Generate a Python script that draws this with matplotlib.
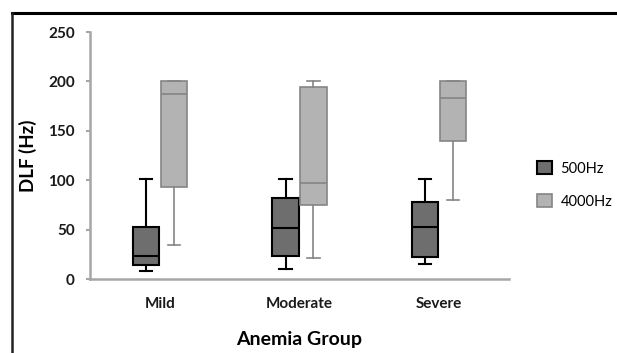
import matplotlib
matplotlib.use("Agg")
import matplotlib.pyplot as plt
from matplotlib.lines import Line2D
from matplotlib.patches import Patch

plt.rcParams["font.family"] = ["Lato", "DejaVu Sans"]

# data
groups      = ["Mild", "Moderate", "Severe"]
series      = ["500Hz", "4000Hz"]
lo_500      = [8, 10, 15]
q1_500      = [14, 24, 23]
med_500     = [24, 52, 53]
q3_500      = [53, 82, 78]
hi_500      = [101, 101, 101]
lo_4000     = [35, 22, 80]
q1_4000     = [93, 75, 140]
med_4000    = [187, 97, 183]
q3_4000     = [200, 194, 200]
hi_4000     = [200, 200, 200]
yticks      = [0, 50, 100, 150, 200, 250]

DARK = "#6e6e6e"; LIGHT = "#b3b3b3"; AXIS = "#a6a6a6"; LEDGE = "#858585"

fig = plt.figure(figsize=(6.17, 3.53), dpi=100)
ax = fig.add_axes([90/617, 1-279.3/353, (509-90)/617, (279.3-32)/353])

def stats(lo, q1, med, q3, hi):
    return [dict(whislo=a, q1=b, med=c, q3=d, whishi=e, fliers=[])
            for a, b, c, d, e in zip(lo, q1, med, q3, hi)]

centers = [i + 0.5 for i in range(len(groups))]
off = 0.1
w = 0.19

ax.bxp(stats(lo_500, q1_500, med_500, q3_500, hi_500),
       positions=[c - off for c in centers], widths=w, patch_artist=True,
       showfliers=False, manage_ticks=False,
       boxprops=dict(facecolor=DARK, edgecolor="black", linewidth=1.5),
       medianprops=dict(color="black", linewidth=1.5),
       whiskerprops=dict(color="black", linewidth=1.5),
       capprops=dict(color="black", linewidth=1.5), capwidths=0.09)

ax.bxp(stats(lo_4000, q1_4000, med_4000, q3_4000, hi_4000),
       positions=[c + off for c in centers], widths=w, patch_artist=True,
       showfliers=False, manage_ticks=False,
       boxprops=dict(facecolor=LIGHT, edgecolor=LEDGE, linewidth=1.2),
       medianprops=dict(color=LEDGE, linewidth=1.2),
       whiskerprops=dict(color=LEDGE, linewidth=1.2),
       capprops=dict(color=LEDGE, linewidth=1.2), capwidths=0.09)

ax.set_xlim(0, 3)
ax.set_ylim(0, 250)
ax.set_yticks(yticks)
ax.set_yticklabels([str(v) for v in yticks], fontsize=11, fontweight="bold", color="#1a1a1a")
ax.set_xticks(centers)
ax.set_xticklabels(groups, fontsize=11, fontweight="bold", color="#1a1a1a")
ax.tick_params(axis="x", length=0, pad=13)
ax.tick_params(axis="y", length=3, width=1.5, color=AXIS, pad=8)
for s in ["top", "right"]:
    ax.spines[s].set_visible(False)
for s in ["left", "bottom"]:
    ax.spines[s].set_color(AXIS)
    ax.spines[s].set_linewidth(1.8)

ax.set_ylabel("DLF (Hz)", fontsize=13.5, fontweight="bold", labelpad=8)
ax.set_xlabel("Anemia Group", fontsize=14, fontweight="bold", labelpad=14)

handles = [Patch(facecolor=DARK, edgecolor="black", linewidth=1.5),
           Patch(facecolor=LIGHT, edgecolor=LEDGE, linewidth=1.2)]
fig.legend(handles, series, loc="center left", bbox_to_anchor=(524/617, 1-185/353),
           frameon=False, fontsize=10.5, handlelength=1.0, handleheight=1.0,
           labelspacing=1.25, handletextpad=0.6)

# frame lines around the figure
fig.add_artist(Line2D([12/617, 1], [1-12.5/353]*2, transform=fig.transFigure,
                      color="black", linewidth=2.2))
fig.add_artist(Line2D([12/617]*2, [0, 1-12.5/353], transform=fig.transFigure,
                      color="#222222", linewidth=1.8))

fig.savefig("out.png", dpi=100)
